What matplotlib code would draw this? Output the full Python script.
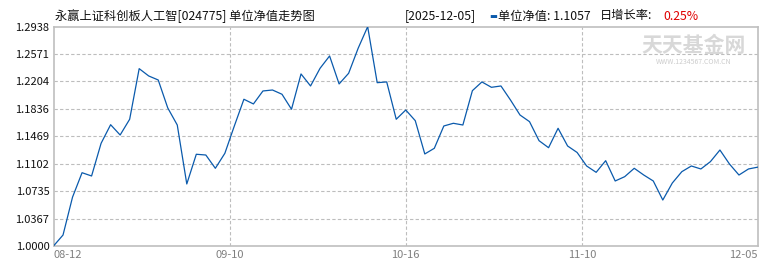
import matplotlib
matplotlib.use('Agg')
import matplotlib.pyplot as plt

# unit NAV per trading day
nav = [1.0000, 1.0147, 1.0655, 1.0982, 1.0938, 1.1376, 1.1625, 1.1487, 1.1698, 1.2376,
       1.2278, 1.2224, 1.1850, 1.1621, 1.0831, 1.1229, 1.1219, 1.1041, 1.1242, 1.1610,
       1.1966, 1.1903, 1.2077, 1.2090, 1.2033, 1.1832, 1.2305, 1.2144, 1.2381, 1.2546,
       1.2171, 1.2314, 1.2649, 1.2938, 1.2188, 1.2198, 1.1698, 1.1822, 1.1679, 1.1233,
       1.1309, 1.1608, 1.1644, 1.1621, 1.2081, 1.2198, 1.2126, 1.2144, 1.1956, 1.1755,
       1.1666, 1.1411, 1.1317, 1.1577, 1.1340, 1.1253, 1.1072, 1.0987, 1.1143, 1.0871,
       1.0929, 1.1041, 1.0951, 1.0871, 1.0616, 1.0844, 1.0996, 1.1072, 1.1032, 1.1130,
       1.1286, 1.1099, 1.0951, 1.1032, 1.1057]
date_labels = ['08-12', '09-10', '10-16', '11-10', '12-05']
y_ticks = [1.0000, 1.0367, 1.0735, 1.1102, 1.1469, 1.1836, 1.2204, 1.2571, 1.2938]

title = '永赢上证科创板人工智[024775] 单位净值走势图'
last_date = '2025-12-05'
last_nav = '1.1057'
day_change = '0.25%'

plt.rcParams['font.family'] = ['Noto Sans CJK SC', 'DejaVu Sans']

fig = plt.figure(figsize=(7.7, 2.7), dpi=100)
W, H = 770, 270
ax = fig.add_axes([53.5 / W, 1 - 246 / H, 704.5 / W, (246 - 26.7) / H])

n = len(nav)
ax.plot(range(n), nav, color='#0a5aac', lw=0.9, zorder=3)
ax.set_xlim(0, n - 1)
ax.set_ylim(y_ticks[0], y_ticks[-1])

# ticks: labels at equal quarters of the index range
xt = [i * (n - 1) / 4 for i in range(5)]
ax.set_xticks(xt)
ax.set_xticklabels(date_labels, color='#808080', fontsize=8)
xl = ax.get_xticklabels()
xl[0].set_ha('left')
xl[-1].set_ha('right')
ax.set_yticks(y_ticks)
ax.set_yticklabels([f'{v:.4f}' for v in y_ticks], fontsize=8, color='#111111')
ax.tick_params(length=0, pad=3)

for v in y_ticks[1:-1]:
    ax.axhline(v, color='#bdbdbd', lw=0.8, ls=(0, (3, 2)), zorder=1)
for x in xt[1:-1]:
    ax.axvline(x, color='#bdbdbd', lw=0.8, ls=(0, (3, 2)), zorder=1)
for s in ax.spines.values():
    s.set_color('#bfbfbf')
    s.set_linewidth(1.2)

# watermark
fig.text(694 / W, 1 - 46 / H, '天天基金网', fontsize=15, fontweight='bold',
         color='#d8d8d8', ha='center', va='center', zorder=0)
fig.text(694 / W, 1 - 62 / H, 'WWW.1234567.COM.CN', fontsize=5, color='#cccccc',
         ha='center', va='center')

# header texts
fig.text(55 / W, 1 - 16 / H, title, fontsize=8.8, ha='left', va='center', color='#111111')
fig.text(405 / W, 1 - 16 / H, f'[{last_date}]', fontsize=8.8, ha='left', va='center',
         color='#111111')
fig.text(489 / W, 1 - 16 / H, '▬', fontsize=6, ha='left', va='center', color='#0a5aac',
         family=['DejaVu Sans'])
fig.text(498 / W, 1 - 16 / H, f'单位净值: {last_nav}', fontsize=8.8, ha='left',
         va='center', color='#111111')
fig.text(600 / W, 1 - 16 / H, '日增长率:', fontsize=8.8, ha='left', va='center',
         color='#111111')
fig.text(663 / W, 1 - 16 / H, day_change, fontsize=8.8, ha='left', va='center',
         color='#e00000')

fig.savefig('out.png', dpi=100)
